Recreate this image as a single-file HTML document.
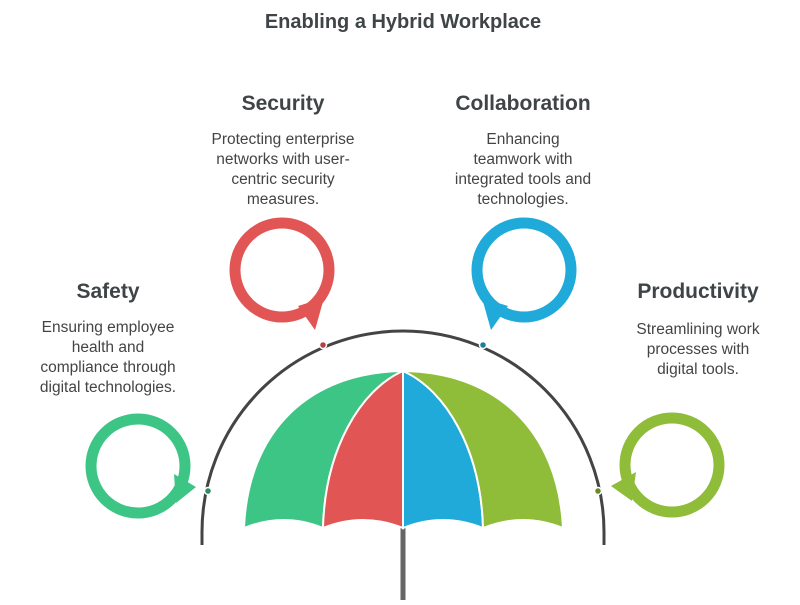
<!DOCTYPE html>
<html><head><meta charset="utf-8"><style>
body{margin:0;width:800px;height:600px;background:#fff;overflow:hidden}
svg text{font-family:"Liberation Sans",sans-serif}
</style></head><body>
<svg width="800" height="600" viewBox="0 0 800 600">
<text x="403" y="28" text-anchor="middle" font-size="20" font-weight="bold" fill="#3f4446">Enabling a Hybrid Workplace</text>

<g font-size="21" font-weight="bold" fill="#3f4446" text-anchor="middle">
<text x="283" y="110">Security</text>
<text x="523" y="110">Collaboration</text>
<text x="108" y="298">Safety</text>
<text x="698" y="298">Productivity</text>
</g>
<g font-size="15.5" fill="#444" text-anchor="middle">
<text x="283" y="144">Protecting enterprise</text>
<text x="283" y="164">networks with user-</text>
<text x="283" y="184">centric security</text>
<text x="283" y="204">measures.</text>
<text x="523" y="144">Enhancing</text>
<text x="523" y="164">teamwork with</text>
<text x="523" y="184">integrated tools and</text>
<text x="523" y="204">technologies.</text>
<text x="108" y="332">Ensuring employee</text>
<text x="108" y="352">health and</text>
<text x="108" y="372">compliance through</text>
<text x="108" y="392">digital technologies.</text>
<text x="698" y="334">Streamlining work</text>
<text x="698" y="354">processes with</text>
<text x="698" y="374">digital tools.</text>
</g>

<path d="M202,545 L202,532 A201,201 0 0 1 604,532 L604,545" fill="none" stroke="#444" stroke-width="3"/>

<rect x="400.5" y="528" width="5" height="72" fill="#666"/>

<g stroke="#fff" stroke-width="2">
<path d="M403,371 C310,372 248,430 244,528 Q284,512 323,528 C325,450 360,390 403,371Z" fill="#3dc585"/>
<path d="M403,371 C360,390 325,450 323,528 Q363,512 403,528Z" fill="#e15554"/>
<path d="M403,371 L403,528 Q443,512 483,528 C481,450 446,390 403,371Z" fill="#1faad9"/>
<path d="M403,371 C446,390 481,450 483,528 Q523,512 563,528 C558,430 496,372 403,371Z" fill="#8fbc39"/>
</g>

<g fill="none" stroke-width="11">
<circle cx="282" cy="270" r="47" stroke="#e15554"/>
<circle cx="524" cy="270" r="47" stroke="#1faad9"/>
<circle cx="138" cy="466" r="47" stroke="#3dc585"/>
<circle cx="672" cy="465" r="47" stroke="#8fbc39"/>
</g>
<polygon points="298,306 315,330 324,298" fill="#e15554"/>
<polygon points="508,306 491,330 482,298" fill="#1faad9"/>
<polygon points="174,474 196,487 176,503" fill="#3dc585"/>
<polygon points="636,472 611,486 632,501" fill="#8fbc39"/>

<g stroke="#fff" stroke-width="1.5">
<circle cx="323" cy="345" r="3.5" fill="#b04444"/>
<circle cx="483" cy="345" r="3.5" fill="#1a7fa0"/>
<circle cx="208" cy="491" r="3.5" fill="#2e8c60"/>
<circle cx="598" cy="491" r="3.5" fill="#6a8a2a"/>
</g>
</svg>
</body></html>
